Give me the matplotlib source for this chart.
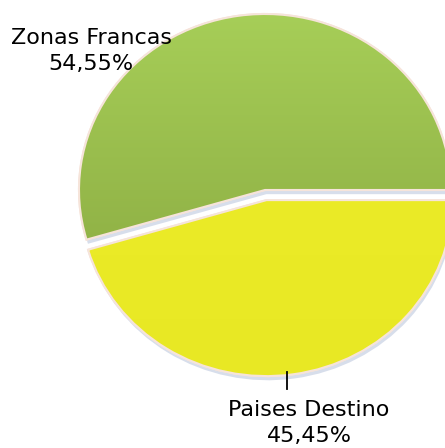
import matplotlib
matplotlib.use("Agg")
import matplotlib.pyplot as plt
import numpy as np
from matplotlib import patheffects as pe
from matplotlib.patches import Wedge
from matplotlib.colors import LinearSegmentedColormap

categories = ["Paises Destino", "Zonas Francas"]
values = [45.45, 54.55]
colors = ["#ebeb28", "#9cc24f"]
explode = [0.058, 0.0]

XLIM = (-1.4247, 0.9677)
YLIM = (-1.4659, 1.0795)

fig = plt.figure(figsize=(4.45, 4.48), dpi=100)
ax = fig.add_axes([0, 0, 1, 1])
ax.axis("off")

wedges, _ = ax.pie(values, colors=colors, explode=explode, startangle=0,
                   counterclock=False, radius=1.0,
                   wedgeprops=dict(edgecolor="#f6e4da", linewidth=1.5))
ax.set_xlim(*XLIM)
ax.set_ylim(*YLIM)
ax.set_aspect("auto")

# gradients clipped to wedges
grad = np.linspace(1, 0, 256).reshape(-1, 1)
gcm = LinearSegmentedColormap.from_list("g", ["#84a23c", "#a8d059"])
ycm = LinearSegmentedColormap.from_list("y", ["#e8e824", "#eeee2a"])
for w, cm in zip(wedges, [ycm, gcm]):
    w.set_path_effects([pe.SimplePatchShadow(offset=(1, -3), shadow_rgbFace="#a8b6d4", alpha=0.45),
                        pe.Normal()])
    im = ax.imshow(grad, cmap=cm, extent=(-1.1, 1.1, -1.1, 1.1), aspect="auto",
                   zorder=w.get_zorder() + 0.1)
    im.set_clip_path(w)
    w2 = Wedge(w.center, w.r, w.theta1, w.theta2, facecolor="none",
               edgecolor="#f6e4da", linewidth=1.5, zorder=w.get_zorder() + 0.2)
    ax.add_patch(w2)
ax.set_xlim(*XLIM)
ax.set_ylim(*YLIM)

total = sum(values)
fs = 16
font = "DejaVu Sans"
pct = [f"{v / total * 100:.2f}".replace(".", ",") + "%" for v in values]

ax.text(-0.935, 0.790, f"{categories[1]}\n{pct[1]}", ha="center", va="center",
        fontsize=fs, family=font, linespacing=1.4, zorder=10)
ax.text(0.2366, -1.324, f"{categories[0]}\n{pct[0]}", ha="center", va="center",
        fontsize=fs, family=font, linespacing=1.4, zorder=10)
ax.plot([0.118, 0.118], [-1.034, -1.131], color="black", linewidth=1.3, zorder=10)

fig.savefig("out.png", dpi=100)
